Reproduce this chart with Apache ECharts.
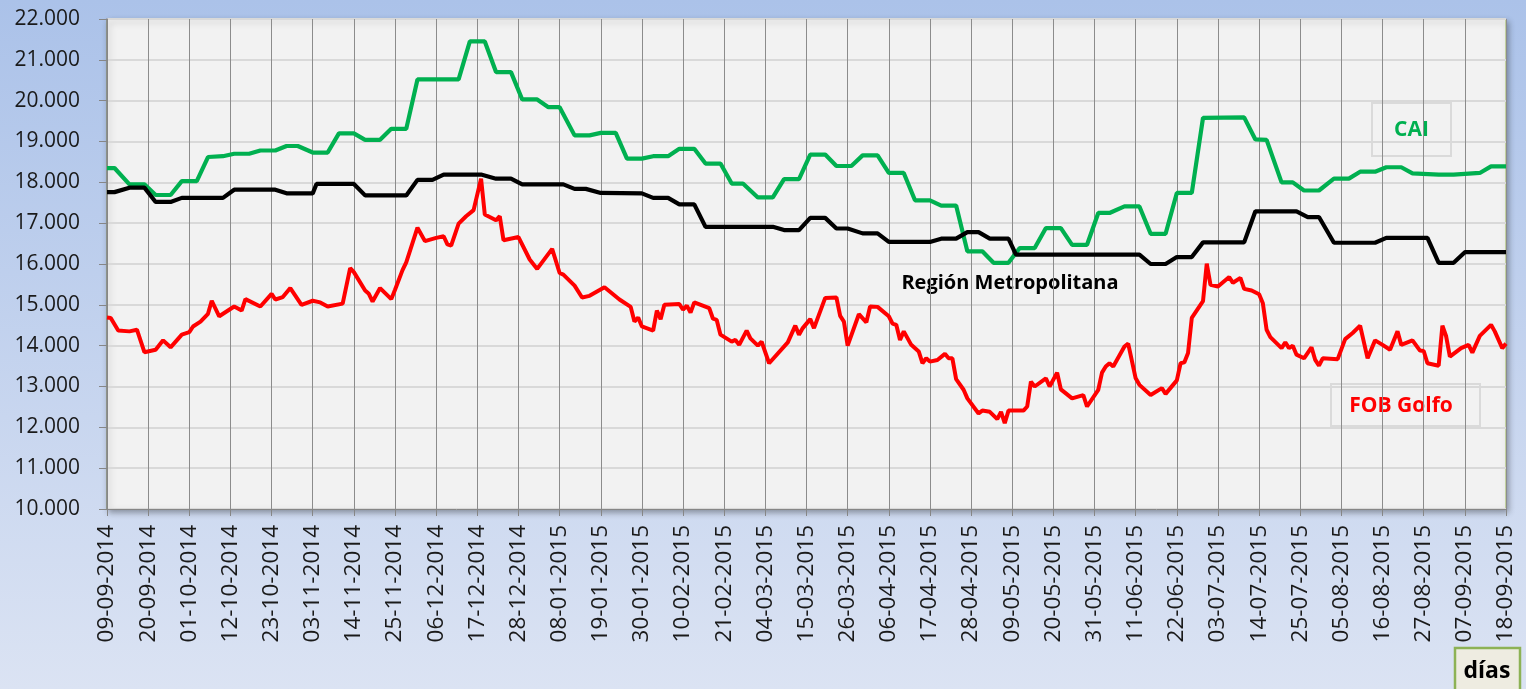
<!DOCTYPE html>
<html>
<head>
<meta charset="utf-8">
<title>CAI / Región Metropolitana / FOB Golfo</title>
<script src="https://cdn.jsdelivr.net/npm/echarts@6/dist/echarts.min.js"></script>
<style>
  html, body { margin: 0; padding: 0; }
  #chart { width: 1526px; height: 689px; }
</style>
</head>
<body>
<div id="chart"></div>
<script>
// etiquetas del eje x, una cada 11 días
const xLabels = ['09-09-2014', '20-09-2014', '01-10-2014', '12-10-2014', '23-10-2014', '03-11-2014', '14-11-2014',
  '25-11-2014', '06-12-2014', '17-12-2014', '28-12-2014', '08-01-2015', '19-01-2015', '30-01-2015', '10-02-2015',
  '21-02-2015', '04-03-2015', '15-03-2015', '26-03-2015', '06-04-2015', '17-04-2015', '28-04-2015', '09-05-2015',
  '20-05-2015', '31-05-2015', '11-06-2015', '22-06-2015', '03-07-2015', '14-07-2015', '25-07-2015', '05-08-2015',
  '16-08-2015', '27-08-2015', '07-09-2015', '18-09-2015']

// [día desde 09-09-2014, valor]
const cai = [[0, 18350], [2, 18350], [6, 17950], [10, 17950], [13, 17690], [17, 17690], [20, 18030], [24, 18030],
  [27, 18620], [31, 18640], [34, 18700], [38, 18700], [41, 18780], [45, 18780], [48, 18890], [51, 18890],
  [55, 18730], [59, 18730], [62, 19200], [66, 19200], [69, 19040], [73, 19040], [76, 19310], [80, 19310],
  [83, 20520], [94, 20520], [97, 21450], [101, 21450], [104, 20700], [108, 20700], [111, 20030], [115, 20030],
  [118, 19840], [121, 19840], [125, 19150], [129, 19150], [132, 19210], [136, 19210], [139, 18580], [143, 18580],
  [146, 18640], [150, 18640], [153, 18820], [157, 18820], [160, 18460], [164, 18460], [167, 17970], [170, 17970],
  [174, 17630], [178, 17630], [181, 18080], [185, 18080], [188, 18680], [192, 18680], [195, 18400], [199, 18400],
  [202, 18660], [206, 18660], [209, 18230], [213, 18230], [216, 17560], [220, 17560], [223, 17430], [227, 17430],
  [230, 16310], [234, 16310], [237, 16030], [241, 16030], [244, 16390], [248, 16390], [251, 16880], [255, 16880],
  [258, 16470], [262, 16470], [265, 17250], [268, 17250], [272, 17410], [276, 17410], [279, 16740], [283, 16740],
  [286, 17740], [290, 17740], [293, 19580], [304, 19590], [307, 19050], [310, 19040], [314, 18000], [317, 18000],
  [320, 17800], [324, 17800], [328, 18090], [332, 18090], [335, 18260], [339, 18260], [342, 18370], [346, 18370],
  [349, 18220], [356, 18190], [360, 18190], [367, 18230], [370, 18390], [374, 18390]]

const metropolitana = [[0, 17760], [2, 17760], [6, 17870], [10, 17870], [13, 17520], [17, 17520], [20, 17620],
  [31, 17620], [34, 17820], [45, 17820], [48, 17730], [55, 17730], [56, 17960], [66, 17960], [69, 17680],
  [80, 17680], [83, 18060], [87, 18060], [90, 18190], [100, 18190], [104, 18090], [108, 18090], [111, 17950],
  [122, 17950], [125, 17840], [128, 17840], [132, 17740], [143, 17730], [146, 17620], [150, 17620], [153, 17460],
  [157, 17460], [160, 16910], [178, 16910], [181, 16830], [185, 16830], [188, 17130], [192, 17130], [195, 16870],
  [198, 16870], [202, 16750], [206, 16750], [209, 16540], [220, 16540], [223, 16620], [227, 16620], [230, 16780],
  [233, 16780], [236, 16620], [241, 16620], [243, 16230], [276, 16230], [279, 16000], [283, 16000], [286, 16170],
  [290, 16170], [293, 16530], [304, 16530], [307, 17290], [318, 17290], [321, 17150], [324, 17150], [328, 16520],
  [339, 16520], [342, 16640], [353, 16640], [356, 16030], [360, 16030], [363, 16290], [374, 16290]]

const fobGolfo = [[0, 14690], [1, 14680], [3, 14370], [6, 14350], [8, 14390], [10, 13840], [13, 13900], [15, 14130],
  [17, 13960], [20, 14270], [22, 14330], [23, 14470], [25, 14590], [27, 14780], [28, 15100], [30, 14720],
  [34, 14960], [36, 14860], [37, 15140], [41, 14960], [44, 15270], [45, 15130], [47, 15190], [49, 15410],
  [52, 15000], [55, 15100], [57, 15060], [59, 14960], [63, 15030], [65, 15900], [66, 15800], [69, 15350],
  [70, 15270], [71, 15080], [73, 15410], [76, 15140], [77, 15370], [79, 15850], [80, 16040], [83, 16890],
  [85, 16560], [88, 16640], [90, 16680], [91, 16480], [92, 16450], [94, 16990], [96, 17170], [98, 17320],
  [100, 18090], [101, 17210], [104, 17070], [105, 17170], [106, 16580], [110, 16660], [113, 16110], [115, 15880],
  [119, 16370], [121, 15780], [122, 15740], [125, 15470], [127, 15180], [129, 15220], [133, 15430], [137, 15130],
  [140, 14950], [141, 14590], [142, 14690], [143, 14470], [146, 14370], [147, 14860], [148, 14650], [149, 15000],
  [153, 15020], [154, 14880], [155, 14980], [156, 14810], [157, 15060], [161, 14920], [162, 14660], [163, 14630],
  [164, 14270], [167, 14100], [168, 14140], [169, 14020], [171, 14370], [172, 14180], [174, 14000], [175, 14100],
  [177, 13570], [182, 14080], [184, 14490], [185, 14270], [186, 14430], [188, 14650], [189, 14430], [192, 15170],
  [195, 15180], [196, 14730], [197, 14590], [198, 14000], [201, 14770], [203, 14570], [204, 14960], [206, 14950],
  [209, 14720], [210, 14540], [211, 14510], [212, 14140], [213, 14350], [215, 14020], [217, 13860], [218, 13570],
  [219, 13690], [220, 13610], [222, 13650], [224, 13800], [225, 13690], [226, 13690], [227, 13180], [229, 12920],
  [230, 12710], [233, 12340], [234, 12410], [236, 12380], [238, 12200], [239, 12380], [240, 12100], [241, 12410],
  [245, 12410], [246, 12510], [247, 13120], [248, 13000], [251, 13200], [252, 13000], [254, 13340], [255, 12930],
  [258, 12710], [261, 12790], [262, 12510], [265, 12920], [266, 13340], [267, 13490], [268, 13570], [269, 13490],
  [272, 13980], [273, 14050], [275, 13200], [276, 13040], [279, 12790], [282, 12960], [283, 12820], [286, 13150],
  [287, 13570], [288, 13590], [289, 13820], [290, 14680], [293, 15090], [294, 16010], [295, 15490], [297, 15450],
  [300, 15680], [301, 15540], [303, 15660], [304, 15390], [306, 15350], [308, 15260], [309, 15040], [310, 14390],
  [311, 14210], [314, 13940], [315, 14080], [316, 13940], [317, 14000], [318, 13780], [320, 13690], [322, 13960],
  [323, 13650], [324, 13510], [325, 13690], [329, 13670], [331, 14160], [333, 14310], [335, 14490], [337, 13690],
  [339, 14130], [341, 14020], [343, 13900], [345, 14350], [346, 14020], [349, 14130], [351, 13880], [352, 13870],
  [353, 13570], [356, 13510], [357, 14490], [358, 14230], [359, 13730], [362, 13940], [364, 14020], [365, 13830],
  [367, 14240], [370, 14510], [371, 14350], [373, 13940], [374, 14050]]

const font = 'Open Sans'
const myChart = echarts.init(document.getElementById('chart'))
const option = {
  animation: false,
  backgroundColor: {
    type: 'linear', x: 0, y: 0, x2: 0, y2: 1,
    colorStops: [
      { offset: 0, color: '#abc2e9' },
      { offset: 1, color: '#dbe3f3' }
    ]
  },
  grid: {
    left: 107,
    right: 20,
    top: 19,
    bottom: 180,
    show: true,
    backgroundColor: '#f2f2f2',
    borderColor: '#9bbb59',
    borderWidth: 1,
    shadowBlur: 6,
    shadowColor: 'rgba(0, 0, 0, 0.35)',
    shadowOffsetX: 2,
    shadowOffsetY: 3
  },
  xAxis: {
    type: 'value',
    min: 0,
    max: 374,
    interval: 11,
    axisLine: { show: true, lineStyle: { color: '#868686', width: 1 } },
    axisTick: { show: true, length: 7, lineStyle: { color: '#868686' } },
    splitLine: { show: true, lineStyle: { color: '#8c8c8c', width: 1 } },
    axisLabel: {
      rotate: 90,
      margin: 16,
      fontFamily: font,
      fontSize: 22.5,
      color: '#1a1a1a',
      formatter: (v) => xLabels[Math.round(v / 11)] || ''
    }
  },
  yAxis: {
    type: 'value',
    min: 10000,
    max: 22000,
    interval: 1000,
    axisLine: { show: true, lineStyle: { color: '#868686', width: 1.5 } },
    axisTick: { show: true, length: 8, lineStyle: { color: '#868686' } },
    splitLine: { show: true, lineStyle: { color: '#d9d9d9', width: 2 } },
    axisLabel: {
      margin: 27,
      fontFamily: font,
      fontSize: 21,
      color: '#1a1a1a',
      formatter: (v) => (v / 1000).toFixed(3)
    }
  },
  series: [
    {
      name: 'CAI',
      type: 'line',
      data: cai,
      symbol: 'none',
      lineStyle: { color: '#00b050', width: 4.2 },
      itemStyle: { color: '#00b050' }
    },
    {
      name: 'FOB Golfo',
      type: 'line',
      data: fobGolfo,
      symbol: 'none',
      lineStyle: { color: '#ff0000', width: 4 },
      itemStyle: { color: '#ff0000' }
    },
    {
      name: 'Región Metropolitana',
      type: 'line',
      data: metropolitana,
      symbol: 'none',
      lineStyle: { color: '#000000', width: 4.2 },
      itemStyle: { color: '#000000' }
    }
  ],
  graphic: [
    {
      type: 'group', z: 100,
      children: [
        { type: 'rect', shape: { x: 1372, y: 103, width: 79, height: 53 }, style: { fill: '#f2f2f2', stroke: '#dadada', lineWidth: 2 } },
        { type: 'text', x: 1411.5, y: 130, style: { text: 'CAI', fill: '#00b050', font: 'bold 21px "Open Sans"', align: 'center', verticalAlign: 'middle' } },
        { type: 'rect', shape: { x: 1331, y: 384, width: 149, height: 42 }, style: { fill: '#f2f2f2', stroke: '#dadada', lineWidth: 2 } },
        { type: 'text', x: 1401, y: 406, style: { text: 'FOB Golfo', fill: '#ff0000', font: 'bold 21px "Open Sans"', align: 'center', verticalAlign: 'middle' } },
        { type: 'text', x: 1010, y: 283, style: { text: 'Región Metropolitana', fill: '#000000', font: 'bold 20px "Open Sans"', align: 'center', verticalAlign: 'middle' } },
        { type: 'rect', shape: { x: 1455, y: 648, width: 65, height: 48 }, style: { fill: '#eeece1', stroke: '#8db255', lineWidth: 2.5 } },
        { type: 'text', x: 1487, y: 671, style: { text: 'días', fill: '#000000', font: 'bold 23px "Open Sans"', align: 'center', verticalAlign: 'middle' } }
      ]
    }
  ]
}
myChart.setOption(option)
window.addEventListener('resize', () => {
  myChart.resize()
})
</script>
</body>
</html>
